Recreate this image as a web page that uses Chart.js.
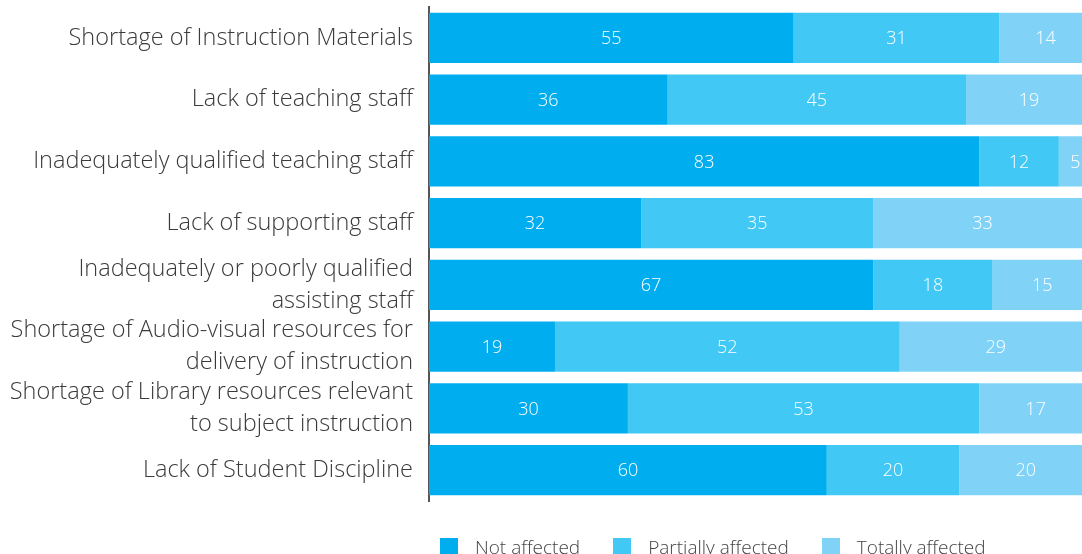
<!DOCTYPE html>
<html>
<head>
<meta charset="utf-8">
<script src="https://cdn.jsdelivr.net/npm/chart.js@4/dist/chart.umd.min.js"></script>
<style>
  html, body { margin: 0; padding: 0; background: #fff; overflow: hidden; }
  #wrap { position: relative; width: 1092px; height: 554px; }
  #legend {
    position: absolute; left: 440px; top: 534px;
    display: flex; align-items: center;
    font-family: 'Open Sans', sans-serif; font-weight: 300; font-size: 19px; color: #444;
    white-space: nowrap;
  }
  #legend .item { display: flex; align-items: center; margin-right: 33px; }
  #legend .box { width: 18px; height: 18px; margin-right: 17px; }
</style>
</head>
<body>
<div id="wrap">
  <canvas id="chart" width="1092" height="554"></canvas>
  <div id="legend"></div>
</div>
<script>
var categories = [
  'Shortage of Instruction Materials',
  'Lack of teaching staff',
  'Inadequately qualified teaching staff',
  'Lack of supporting staff',
  ['Inadequately or poorly qualified', 'assisting staff'],
  ['Shortage of Audio-visual resources for', 'delivery of instruction'],
  ['Shortage of Library resources relevant', 'to subject instruction'],
  'Lack of Student Discipline'
];
var seriesNames = ['Not affected', 'Partially affected', 'Totally affected'];
var notAffected = [55, 36, 83, 32, 67, 19, 30, 60];
var partiallyAffected = [31, 45, 12, 35, 18, 52, 53, 20];
var totallyAffected = [14, 19, 5, 33, 15, 29, 17, 20];
var colors = ['#00aeef', '#41c8f5', '#80d3f7'];

var FONT = "'Open Sans', sans-serif";

// white value text in the middle of each segment
var segmentLabels = {
  id: 'segmentLabels',
  afterDatasetsDraw: function (chart) {
    var ctx = chart.ctx;
    ctx.save();
    ctx.fillStyle = '#ffffff';
    ctx.font = '300 18px ' + FONT;
    ctx.textAlign = 'center';
    ctx.textBaseline = 'middle';
    chart.data.datasets.forEach(function (ds, di) {
      chart.getDatasetMeta(di).data.forEach(function (bar, i) {
        ctx.fillText(String(ds.data[i]), (bar.x + bar.base) / 2, bar.y + 1);
      });
    });
    ctx.restore();
  }
};

var datasets = [notAffected, partiallyAffected, totallyAffected].map(function (d, i) {
  return {
    label: seriesNames[i],
    data: d,
    backgroundColor: colors[i],
    borderWidth: 0,
    barPercentage: 0.81,
    categoryPercentage: 1
  };
});

new Chart(document.getElementById('chart').getContext('2d'), {
  type: 'bar',
  data: { labels: categories, datasets: datasets },
  options: {
    indexAxis: 'y',
    responsive: false,
    animation: false,
    layout: { padding: { top: 7, bottom: 53, left: 0, right: 0 } },
    plugins: { legend: { display: false }, tooltip: { enabled: false } },
    scales: {
      x: {
        stacked: true,
        min: 0,
        max: 100,
        display: false
      },
      y: {
        stacked: true,
        afterFit: function (scale) {
          scale.width = 429;
          scale.paddingTop = 0;
          scale.paddingBottom = 0;
        },
        grid: { display: false, drawTicks: false },
        border: { display: true, color: '#555555', width: 2 },
        ticks: {
          autoSkip: false,
          color: '#3a3a3a',
          padding: 16,
          font: { family: FONT, size: 23.5, weight: '300', lineHeight: 1.36 }
        }
      }
    }
  },
  plugins: [segmentLabels]
});

// html legend under the plot
var legend = document.getElementById('legend');
seriesNames.forEach(function (name, i) {
  var item = document.createElement('div');
  item.className = 'item';
  var box = document.createElement('span');
  box.className = 'box';
  box.style.background = colors[i];
  var txt = document.createElement('span');
  txt.textContent = name;
  item.appendChild(box);
  item.appendChild(txt);
  legend.appendChild(item);
});
</script>
</body>
</html>
